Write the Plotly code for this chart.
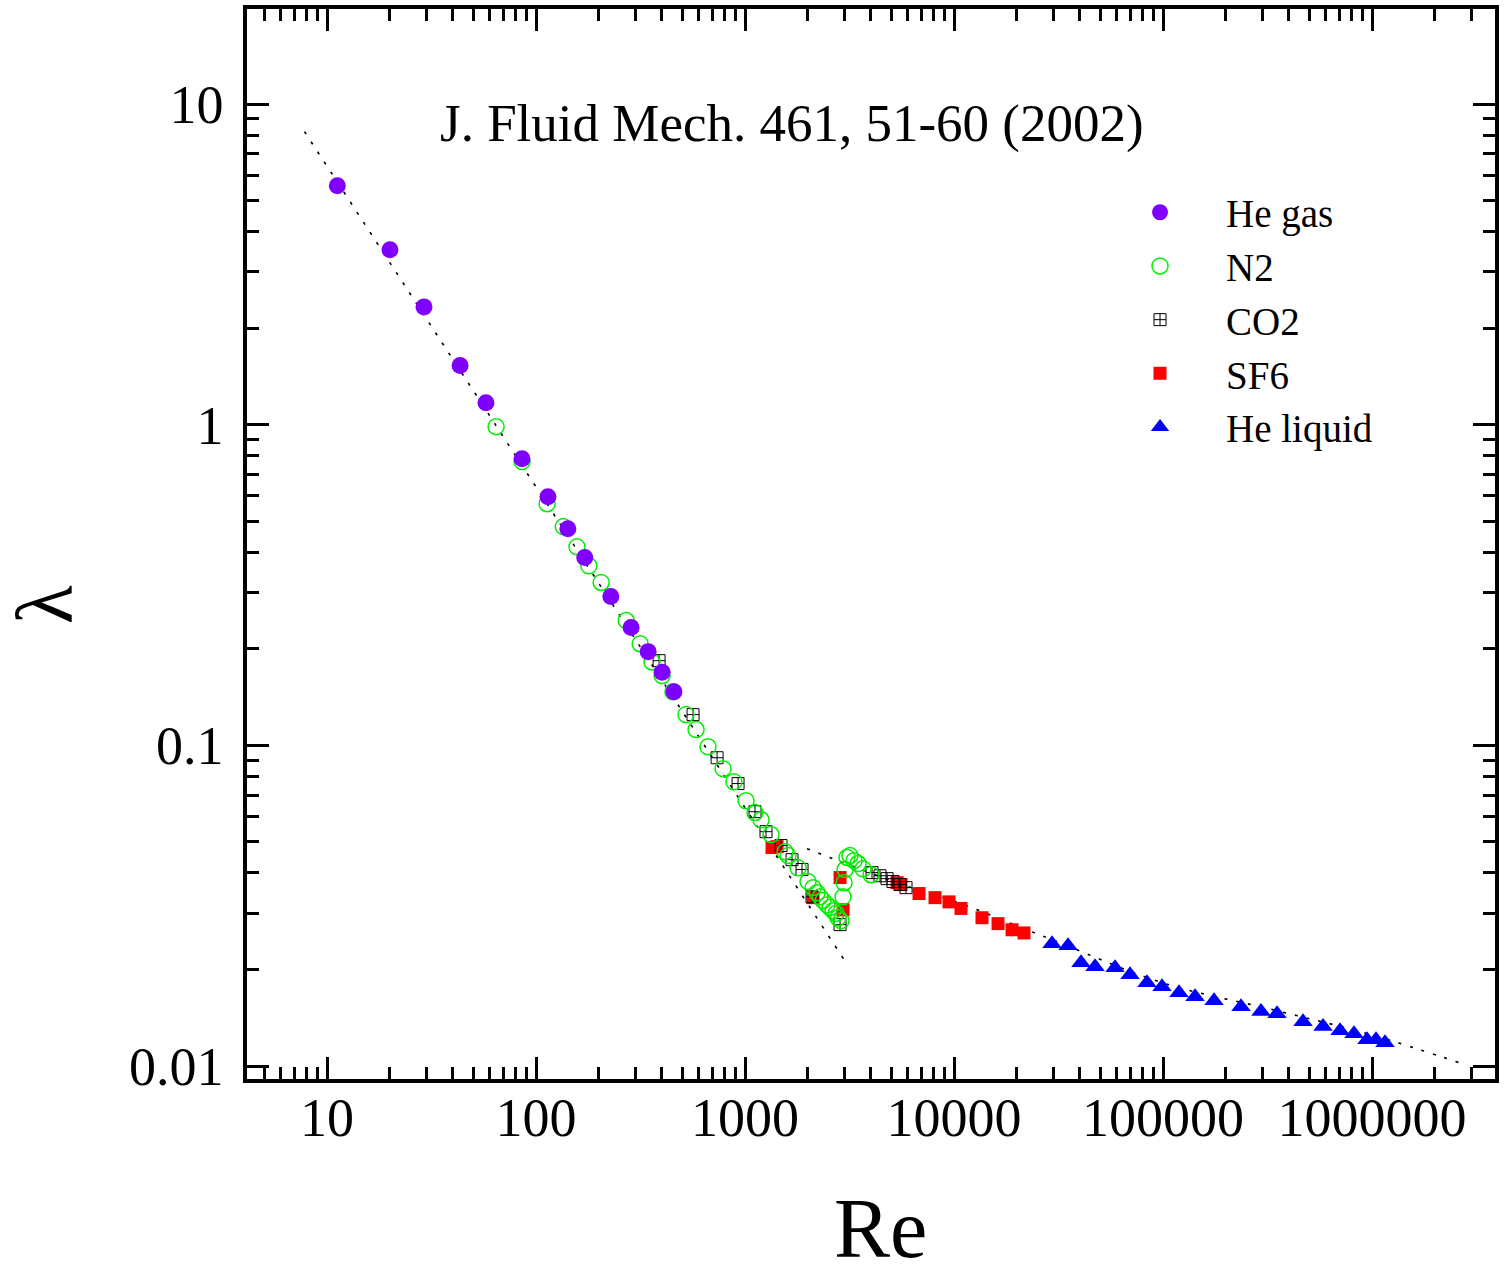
import plotly.graph_objects as go

# ---- data ----
he_gas_re = [11.2, 20.0, 29.1, 43.3, 57.6, 85.7, 114, 142, 171, 228, 285, 344, 401, 457]
he_gas_lam = [5.56, 3.51, 2.33, 1.53, 1.17, 0.783, 0.596, 0.474, 0.385, 0.291, 0.233, 0.196, 0.169, 0.147]

n2_re = [64.4, 85.7, 113, 135, 157, 179, 205, 270, 315, 359, 401, 452, 522, 583, 665, 785, 885,
         1011, 1116, 1193, 1332, 1554, 1606, 1793, 2002, 2116, 2211, 2285, 2362, 2468, 2551, 2636,
         2725, 2786, 2880, 2944, 2977, 3010, 3077, 3180, 3322, 3473, 3669, 4008]
n2_lam = [0.986, 0.767, 0.567, 0.481, 0.416, 0.363, 0.322, 0.245, 0.2075, 0.182, 0.165, 0.147,
          0.1247, 0.112, 0.099, 0.0846, 0.077, 0.0672, 0.0617, 0.0586, 0.0527, 0.0466, 0.0453,
          0.0415, 0.0376, 0.036, 0.0347, 0.0337, 0.0328, 0.0318, 0.0312, 0.0305, 0.0299, 0.029,
          0.0284, 0.0337, 0.0373, 0.041, 0.0447, 0.0453, 0.0437, 0.0428, 0.0412, 0.0395]

co2_re = [388, 564, 735, 926, 1116, 1260, 1487, 1678, 1874, 2092, 2849, 4052, 4425, 4780, 5106, 5514, 5893]
co2_lam = [0.1837, 0.1247, 0.0915, 0.076, 0.0621, 0.0538, 0.0487, 0.044, 0.041, 0.0337, 0.0276,
           0.0401, 0.0392, 0.0384, 0.0376, 0.0368, 0.036]

sf6_re = [1346, 1423, 2116, 2849, 2944, 5338, 5577, 6800, 8111, 9465, 10800, 13610, 16240, 18950, 21620]
sf6_lam = [0.048, 0.0483, 0.0335, 0.0387, 0.0307, 0.0373, 0.0368, 0.0345, 0.0335, 0.0325, 0.031,
           0.029, 0.0278, 0.0266, 0.026]

he_liq_re = [29430, 35120, 40520, 47270, 58930, 69530, 83820, 98900, 119300, 142300, 175400,
             236200, 294300, 351200, 467700, 583100, 703200, 820100, 946500, 1045000, 1154000]
he_liq_lam = [0.02407, 0.02373, 0.0210, 0.0204, 0.02026, 0.01927, 0.01819, 0.01768, 0.01693,
              0.01645, 0.01599, 0.01531, 0.01478, 0.01456, 0.01374, 0.01327, 0.01289, 0.01261,
              0.01208, 0.01208, 0.01182]

# reference curves
laminar_re = [7.8, 3000]
laminar_lam = [8.2, 0.0213]
turb_re = [1980, 5514, 10800, 21620, 29430, 98900, 347300, 1000000, 2790000]
turb_lam = [0.0476, 0.0370, 0.0321, 0.0268, 0.0248, 0.0182, 0.0149, 0.0125, 0.0101]

x_tickvals = [10, 100, 1000, 10000, 100000, 1000000]
x_ticktext = ["10", "100", "1000", "10000", "100000", "1000000"]
y_tickvals = [0.01, 0.1, 1, 10]
y_ticktext = ["0.01", "0.1", "1", "10"]

FONT = "Liberation Serif, Times New Roman, serif"

fig = go.Figure()

dot = dict(color="black", width=1.6, dash="3px,9px")
fig.add_trace(go.Scatter(x=laminar_re, y=laminar_lam, mode="lines", line=dot,
                         showlegend=False, hoverinfo="skip"))
fig.add_trace(go.Scatter(x=turb_re, y=turb_lam, mode="lines", line=dot, line_shape="spline",
                         showlegend=False, hoverinfo="skip"))

fig.add_trace(go.Scatter(x=sf6_re, y=sf6_lam, mode="markers", name="SF6", legendrank=4,
                         marker=dict(symbol="square", size=13, color="#ff0000", line=dict(width=0))))
fig.add_trace(go.Scatter(x=co2_re, y=co2_lam, mode="markers", name="CO2", legendrank=3,
                         marker=dict(symbol="square-cross-open", size=12, color="black",
                                     line=dict(width=1, color="black"))))
fig.add_trace(go.Scatter(x=n2_re, y=n2_lam, mode="markers", name="N2", legendrank=2,
                         marker=dict(symbol="circle-open", size=16, color="#00ee00",
                                     line=dict(width=1.5, color="#00ee00"))))
fig.add_trace(go.Scatter(x=he_gas_re, y=he_gas_lam, mode="markers", name="He gas", legendrank=1,
                         marker=dict(symbol="circle", size=17, color="#8000ff", line=dict(width=0))))
fig.add_trace(go.Scatter(x=he_liq_re, y=he_liq_lam, mode="markers", name="He liquid", legendrank=5,
                         marker=dict(symbol="triangle-up", size=17, color="#0000ff", line=dict(width=0))))

minor_x = [m * 10 ** e for e in range(0, 7) for m in range(2, 10)]
minor_y = [m * 10 ** e for e in range(-3, 2) for m in range(2, 10)]

axis_common = dict(
    showline=True, linecolor="black", linewidth=3.5, mirror="ticks",
    ticks="inside", ticklen=22, tickwidth=3, tickcolor="black",
    showgrid=False, zeroline=False, automargin=False,
    tickfont=dict(family=FONT, size=54, color="black"),
)

fig.update_xaxes(type="log", range=[0.617, 6.5885], tickvals=x_tickvals, ticktext=x_ticktext,
                 minor=dict(tickvals=minor_x, ticks="inside", ticklen=12, tickwidth=3,
                            tickcolor="black", showgrid=False),
                 ticklabelstandoff=-12, **axis_common)
fig.update_yaxes(type="log", range=[-2.0405, 1.2963], tickvals=y_tickvals, ticktext=y_ticktext,
                 minor=dict(tickvals=minor_y, ticks="inside", ticklen=12, tickwidth=3,
                            tickcolor="black", showgrid=False),
                 ticklabelstandoff=9, **axis_common)

fig.update_layout(
    width=1511, height=1275,
    margin=dict(l=247, r=16, t=9, b=196),
    paper_bgcolor="white", plot_bgcolor="white",
    font=dict(family=FONT, color="black"),
    showlegend=True,
    legend=dict(x=0.6787, y=0.8398, xanchor="left", yanchor="top",
                font=dict(family=FONT, size=39, color="black"),
                itemwidth=122, bgcolor="rgba(0,0,0,0)", borderwidth=0,
                tracegroupgap=0),
    annotations=[
        dict(text="J. Fluid Mech. 461, 51-60 (2002)", xref="paper", yref="paper",
             x=0.4367, y=0.8928, xanchor="center", yanchor="middle", showarrow=False,
             font=dict(family=FONT, size=53, color="black")),
        dict(text="Re", xref="paper", yref="paper", x=0.508, y=-0.1393,
             xanchor="center", yanchor="middle", showarrow=False,
             font=dict(family=FONT, size=84, color="black")),
        dict(text="λ", xref="paper", yref="paper", x=-0.1619, y=0.4439, textangle=-90,
             xanchor="center", yanchor="middle", showarrow=False,
             font=dict(family=FONT, size=80, color="black")),
    ],
)

fig.write_html("out.html", config={"displayModeBar": False},
               post_script="document.body.style.margin='0';")
